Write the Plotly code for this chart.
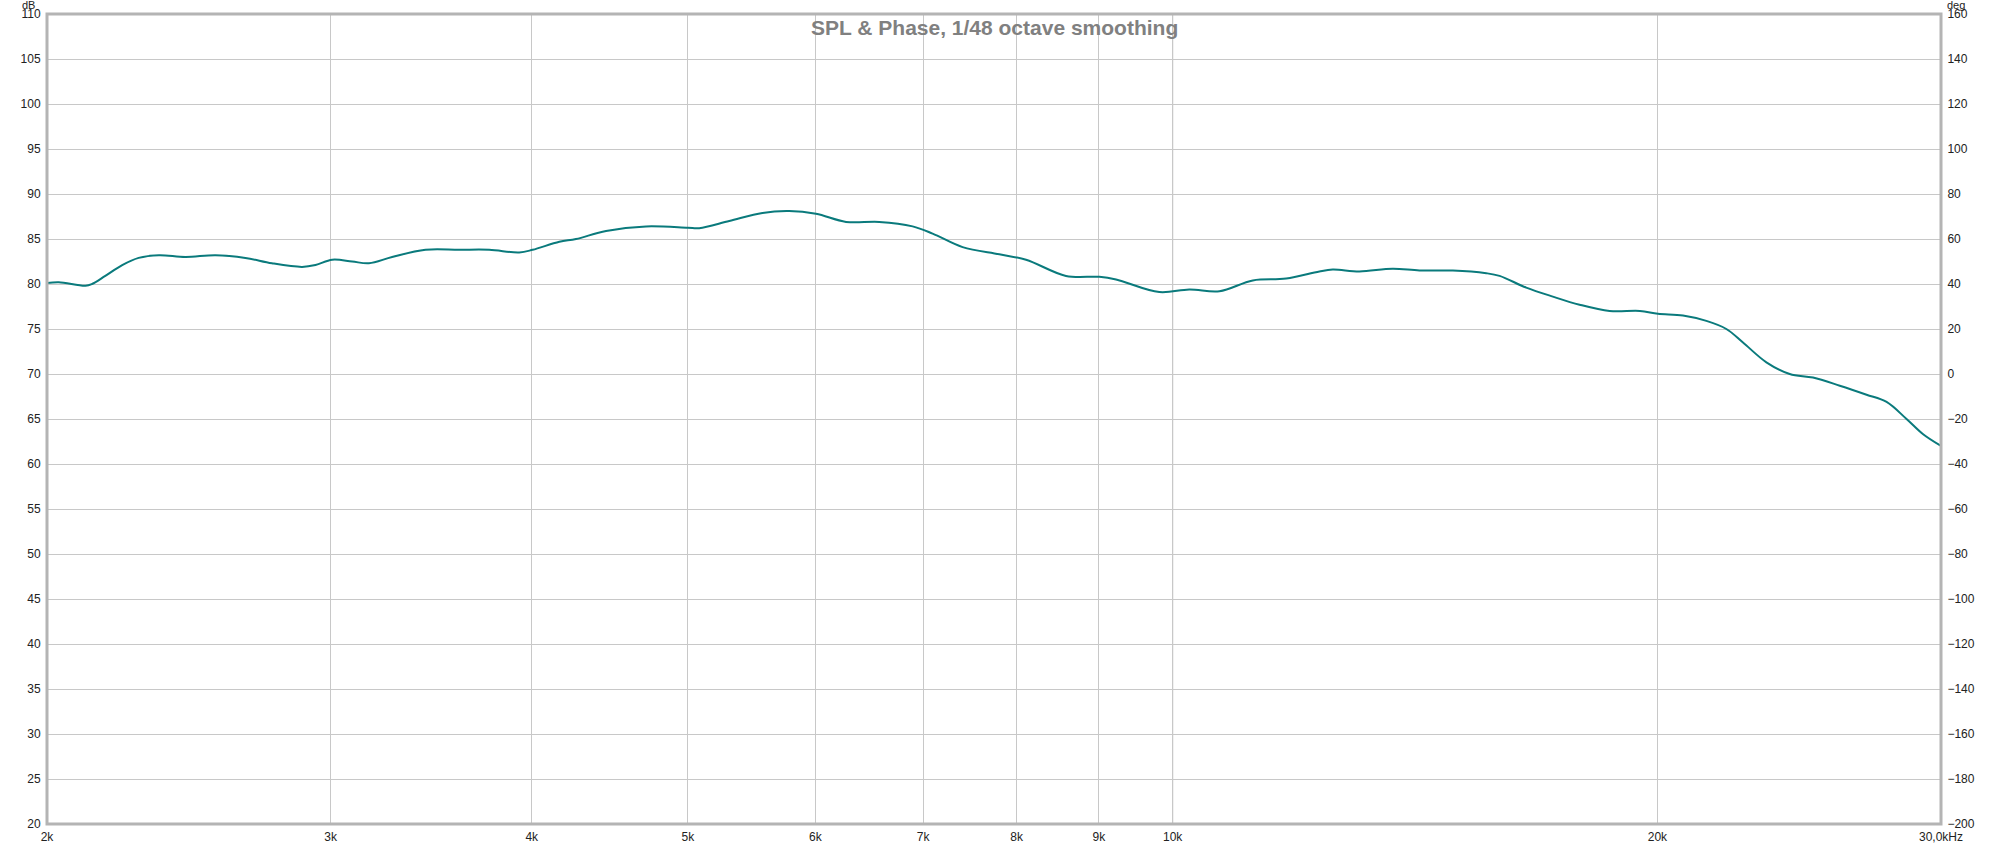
import plotly.graph_objects as go

# ---- data ----
freq_hz = [2000, 2034, 2113, 2133, 2174, 2227, 2280, 2347, 2438, 2545, 2656, 2759, 2880, 2936,
           3007, 3094, 3169, 3276, 3436, 3606, 3764, 3929, 4005, 4161, 4261, 4448, 4710, 5000,
           5082, 5305, 5563, 5780, 6005, 6269, 6574, 6895, 7095, 7406, 7805, 8109, 8586, 9005,
           9223, 9811, 10242, 10692, 11214, 11763, 12335, 12572, 13062, 13698, 14232, 14927,
           15658, 15959, 16579, 17222, 17893, 18678, 19506, 20014, 20744, 21450, 22072, 22602,
           23372, 24164, 24983, 25958, 26971, 27754, 28558, 29244, 30000]
spl_db = [80.1, 80.2, 79.8, 80.0, 80.9, 82.1, 82.9, 83.2, 83.0, 83.2, 82.9, 82.3, 81.9, 82.1,
          82.7, 82.5, 82.3, 83.0, 83.8, 83.8, 83.8, 83.5, 83.8, 84.7, 85.0, 85.9, 86.4, 86.25,
          86.2, 87.0, 87.9, 88.1, 87.8, 86.9, 86.9, 86.4, 85.6, 84.1, 83.3, 82.7, 80.9, 80.8,
          80.5, 79.1, 79.4, 79.2, 80.4, 80.6, 81.4, 81.6, 81.4, 81.7, 81.5, 81.5,
          81.2, 80.9, 79.6, 78.6, 77.7, 77.0, 77.0, 76.7, 76.5, 75.9, 75.0, 73.5,
          71.3, 70.0, 69.6, 68.7, 67.7, 66.9, 65.0, 63.3, 62.0]

x_tickvals = [2000, 3000, 4000, 5000, 6000, 7000, 8000, 9000, 10000, 20000, 30000]
x_ticktext = ["2k", "3k", "4k", "5k", "6k", "7k", "8k", "9k", "10k", "20k", "30,0kHz"]
db_ticks = list(range(20, 111, 5))
deg_ticks = list(range(-200, 161, 20))

title_text = "SPL & Phase, 1/48 octave smoothing"

FONT = "Liberation Sans, Arial, sans-serif"
GRID = "#c8c8c8"
TICKFONT = dict(family=FONT, size=12, color="#222222")

fig = go.Figure()
fig.add_trace(go.Scatter(x=freq_hz, y=spl_db, mode="lines",
                         line=dict(color="#0a7a7c", width=2, shape="spline", smoothing=1.0),
                         showlegend=False, hoverinfo="x+y"))
fig.add_trace(go.Scatter(x=[], y=[], yaxis="y2", showlegend=False))

# darker 10k grid line
fig.add_shape(type="line", xref="x", yref="paper", x0=10000, x1=10000, y0=0, y1=1,
              line=dict(color="#8c8c8c", width=1), layer="below")
# plot frame
fig.add_shape(type="rect", xref="paper", yref="paper", x0=0, x1=1, y0=0, y1=1,
              line=dict(color="#b4b4b4", width=3), layer="above")

fig.update_layout(
    width=2000, height=846,
    margin=dict(l=47, r=59, t=14, b=22),
    paper_bgcolor="white", plot_bgcolor="white",
    font=dict(family=FONT, size=12, color="#222222"),
    xaxis=dict(type="log", range=[3.30103, 4.4771213], tickvals=x_tickvals, ticktext=x_ticktext,
               showgrid=True, gridcolor=GRID, gridwidth=1, zeroline=False, showline=False,
               ticks="outside", ticklen=2, tickcolor="rgba(0,0,0,0)", automargin=False,
               tickfont=TICKFONT),
    yaxis=dict(range=[20, 110], tickvals=db_ticks, showgrid=True, gridcolor=GRID, gridwidth=1,
               zeroline=False, showline=False, ticks="outside", ticklen=3,
               tickcolor="rgba(0,0,0,0)", automargin=False, tickfont=TICKFONT),
    yaxis2=dict(range=[-200, 160], tickvals=deg_ticks, overlaying="y", side="right", anchor="x",
                showgrid=False, zeroline=False, showline=False, ticks="outside", ticklen=3,
                tickcolor="rgba(0,0,0,0)", automargin=False, tickfont=TICKFONT),
    annotations=[
        dict(text=title_text, xref="paper", yref="paper", x=0.5, y=1, yshift=-13,
             showarrow=False, font=dict(family=FONT, size=21, color="#808080", weight="bold"),
             xanchor="center", yanchor="middle"),
        dict(text="dB", xref="paper", yref="paper", x=0, y=1, xshift=-10, yshift=9,
             showarrow=False, font=dict(size=11), xanchor="right", yanchor="middle"),
        dict(text="deg", xref="paper", yref="paper", x=1, y=1, xshift=4, yshift=9,
             showarrow=False, font=dict(size=11), xanchor="left", yanchor="middle"),
    ],
)

fig.write_html("out.html", config={"displayModeBar": False})

# remove the default page margin so the figure fills the window exactly
with open("out.html", "r", encoding="utf-8") as fh:
    html = fh.read()
html = html.replace("<body>", '<body style="margin:0;padding:0;overflow:hidden">', 1)
with open("out.html", "w", encoding="utf-8") as fh:
    fh.write(html)
